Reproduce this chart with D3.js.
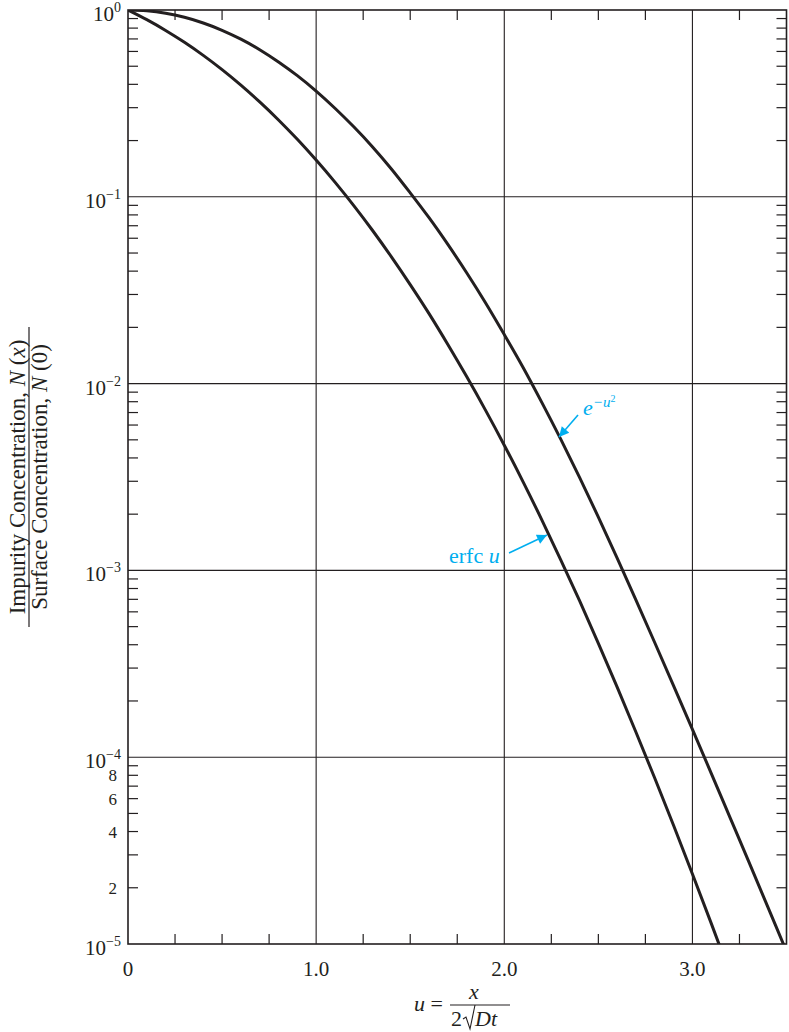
<!DOCTYPE html>
<html><head><meta charset="utf-8">
<script src="https://cdn.jsdelivr.net/npm/d3@7"></script>
<style>
body{margin:0;background:#fff;}
svg{display:block;}
text{font-family:"Liberation Serif","Times New Roman",serif;fill:#231f20;}
</style></head>
<body>
<svg id="c" width="789" height="1032"></svg>
<script>
// ---- data ----
const uValues = [0,0.1,0.2,0.3,0.4,0.5,0.6,0.7,0.8,0.9,1.0,1.1,1.2,1.3,1.4,1.5,1.6,1.7,1.8,1.9,2.0,2.1,2.2,2.3,2.4,2.5,2.6,2.7,2.8,2.9,3.0,3.1,3.2,3.3,3.4,3.5];
const expSeries = [1,0.990,0.961,0.914,0.852,0.779,0.698,0.613,0.527,0.445,0.368,0.298,0.237,0.185,0.141,0.105,0.0773,0.0556,0.0392,0.0271,0.0183,0.0122,0.00791,0.00504,0.00315,0.00193,0.001164,0.000693,0.000410,0.000241,0.000141,0.0000820,0.0000475,0.0000275,0.00001585,0.00000912];
const erfcSeries = [1,0.8875,0.7773,0.6714,0.5716,0.4795,0.3961,0.3222,0.2579,0.2031,0.1573,0.1198,0.0897,0.0660,0.0477,0.0339,0.0237,0.0162,0.0109,0.00721,0.00468,0.00298,0.00186,0.00114,0.000689,0.000407,0.000237,0.000136,0.0000771,0.0000431,0.0000237,0.0000129,0.0000069,null,null,null];
const xTickValues = [0,1,2,3];
const xTickLabels = ["0","1.0","2.0","3.0"];
const yDecadeExps = [0,-1,-2,-3,-4,-5];
const yMinorLabels = [8,6,4,2];
const xMinorTicks = [0.25,0.5,0.75,1.25,1.5,1.75,2.25,2.5,2.75,3.25];

const svg = d3.select("#c");
const L=128, R=786.5, T=10, B=944;
const x = d3.scaleLinear().domain([0,3.5]).range([L,R]);
const y = d3.scaleLog().domain([1e-5,1]).range([B,T]);
const ink="#231f20", cyan="#00aeef";

svg.append("clipPath").attr("id","clip").append("rect").attr("x",L).attr("y",T).attr("width",R-L).attr("height",B-T);

// grid
const g = svg.append("g");
g.selectAll(".vg").data([1,2,3]).join("line")
  .attr("x1",d=>x(d)).attr("x2",d=>x(d)).attr("y1",T).attr("y2",B)
  .attr("stroke",ink).attr("stroke-width",1.1);
g.selectAll(".hg").data([-1,-2,-3,-4]).join("line")
  .attr("x1",L).attr("x2",R).attr("y1",d=>y(Math.pow(10,d))).attr("y2",d=>y(Math.pow(10,d)))
  .attr("stroke",ink).attr("stroke-width",1.1);

// minor y ticks both sides
const minorY=[];
for(let e=-5;e<0;e++) for(let m=2;m<=9;m++) minorY.push(m*Math.pow(10,e));
g.selectAll(".myl").data(minorY).join("line")
  .attr("x1",L).attr("x2",L+10).attr("y1",d=>y(d)).attr("y2",d=>y(d)).attr("stroke",ink).attr("stroke-width",1.2);
g.selectAll(".myr").data(minorY).join("line")
  .attr("x1",R-10).attr("x2",R).attr("y1",d=>y(d)).attr("y2",d=>y(d)).attr("stroke",ink).attr("stroke-width",1.2);
// minor x ticks top & bottom
g.selectAll(".mxb").data(xMinorTicks).join("line")
  .attr("x1",d=>x(d)).attr("x2",d=>x(d)).attr("y1",B).attr("y2",B-10).attr("stroke",ink).attr("stroke-width",1.2);
g.selectAll(".mxt").data(xMinorTicks).join("line")
  .attr("x1",d=>x(d)).attr("x2",d=>x(d)).attr("y1",T).attr("y2",T+10).attr("stroke",ink).attr("stroke-width",1.2);

// frame
svg.append("rect").attr("x",L).attr("y",T).attr("width",R-L).attr("height",B-T)
  .attr("fill","none").attr("stroke",ink).attr("stroke-width",1.6);

// curves
const line = d3.line().defined(d=>d[1]!=null).x(d=>x(d[0])).y(d=>y(d[1])).curve(d3.curveCatmullRom);
const cg = svg.append("g").attr("clip-path","url(#clip)");
cg.append("path").datum(uValues.map((u,i)=>[u,expSeries[i]])).attr("d",line)
  .attr("fill","none").attr("stroke",ink).attr("stroke-width",3);
cg.append("path").datum(uValues.map((u,i)=>[u,erfcSeries[i]])).attr("d",line)
  .attr("fill","none").attr("stroke",ink).attr("stroke-width",3);

// x tick labels
svg.selectAll(".xl").data(xTickValues).join("text")
  .attr("x",d=>x(d)).attr("y",976).attr("text-anchor","middle").attr("font-size",21)
  .text((d,i)=>xTickLabels[i]);

// y decade labels
const yl = svg.selectAll(".yl").data(yDecadeExps).join("text")
  .attr("x",121).attr("y",d=>y(Math.pow(10,d))+11).attr("text-anchor","end").attr("font-size",21);
yl.append("tspan").text("10");
yl.append("tspan").attr("dy",-9).attr("font-size",14).text(d=>d===0?"0":"\u2212"+(-d));

// minor labels last decade
svg.selectAll(".ml").data(yMinorLabels).join("text")
  .attr("x",117).attr("y",d=>y(d*1e-5)+6).attr("text-anchor","end").attr("font-size",17)
  .text(d=>d);

// y axis title (fraction, rotated)
const yt = svg.append("g").attr("transform","translate(0,477) rotate(-90)");
yt.append("text").attr("x",0).attr("y",25).attr("text-anchor","middle").attr("font-size",23)
  .html('Impurity Concentration, <tspan font-style="italic">N</tspan> (<tspan font-style="italic">x</tspan>)');
yt.append("line").attr("x1",-150).attr("x2",150).attr("y1",29).attr("y2",29).attr("stroke",ink).attr("stroke-width",1.2);
yt.append("text").attr("x",0).attr("y",47).attr("text-anchor","middle").attr("font-size",23)
  .html('Surface Concentration, <tspan font-style="italic">N</tspan> (0)');

// x axis title: u = x / (2 sqrt(Dt))
const xt = svg.append("g");
xt.append("text").attr("x",414).attr("y",1011).attr("font-size",22)
  .html('<tspan font-style="italic">u</tspan> =');
xt.append("text").attr("x",474).attr("y",999).attr("font-size",22).attr("text-anchor","middle")
  .attr("font-style","italic").text("x");
xt.append("line").attr("x1",450).attr("x2",510).attr("y1",1005).attr("y2",1005).attr("stroke",ink).attr("stroke-width",1.2);
xt.append("text").attr("x",451).attr("y",1026).attr("font-size",22).text("2");
xt.append("path").attr("d","M463,1019 L466,1017 L470,1029 L475,1005")
  .attr("fill","none").attr("stroke",ink).attr("stroke-width",1.1);
xt.append("text").attr("x",475).attr("y",1026).attr("font-size",22).attr("font-style","italic").text("Dt");

// annotations
const defs = svg.append("defs");
defs.append("marker").attr("id","ah").attr("viewBox","0 0 10 10").attr("refX",10).attr("refY",5)
  .attr("markerWidth",15).attr("markerHeight",10).attr("markerUnits","userSpaceOnUse").attr("orient","auto")
  .append("path").attr("d","M0,0 L10,5 L0,10 Z").attr("fill",cyan);

svg.append("line").attr("x1",578).attr("y1",415).attr("x2",559).attr("y2",437)
  .attr("stroke",cyan).attr("stroke-width",1.6).attr("marker-end","url(#ah)");
const et = svg.append("text").attr("x",583).attr("y",415).attr("font-size",22).style("fill",cyan).attr("font-style","italic");
et.append("tspan").text("e");
et.append("tspan").attr("dy",-8).attr("font-size",15).text("\u2212u");
et.append("tspan").attr("dy",-5).attr("font-size",10).attr("font-style","normal").text("2");

svg.append("line").attr("x1",509).attr("y1",553).attr("x2",547).attr("y2",535)
  .attr("stroke",cyan).attr("stroke-width",1.6).attr("marker-end","url(#ah)");
svg.append("text").attr("x",449).attr("y",563).attr("font-size",22).style("fill",cyan)
  .html('erfc <tspan font-style="italic">u</tspan>');
</script>
</body></html>
